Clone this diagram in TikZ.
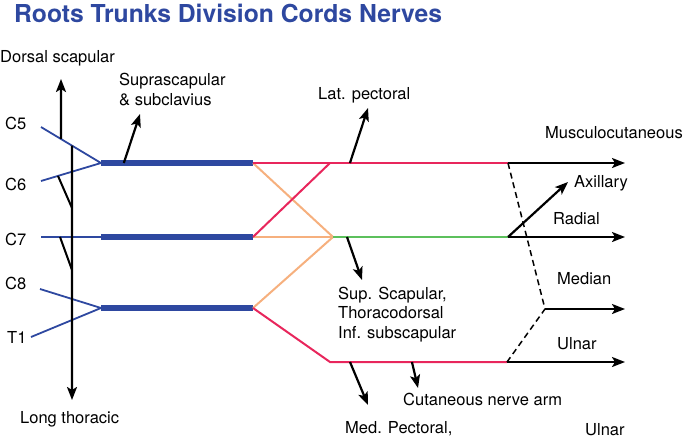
\documentclass[tikz,border=0pt]{standalone}
\usepackage{fontspec}
\setmainfont{TeX Gyre Heros}
\usetikzlibrary{arrows.meta,calc}
\definecolor{plexblue}{RGB}{46,72,160}
\definecolor{cordpink}{RGB}{232,38,92}
\definecolor{divorange}{RGB}{246,176,126}
\definecolor{cordgreen}{RGB}{92,192,92}
\tikzset{
  root/.style={plexblue,line width=1.8pt},
  trunk/.style={plexblue,line width=6pt},
  div/.style={divorange,line width=2pt},
  cord/.style={cordpink,line width=2pt},
  nerve/.style={black,line width=2.2pt,-{Stealth[length=13pt,width=10pt,inset=3pt]}},
  lbl/.style={anchor=base west,inner sep=0pt,align=left}
}
\begin{document}
\begin{tikzpicture}[x=1pt,y=-1pt,font=\fontsize{16.5}{19.5}\selectfont]
\useasboundingbox (0,0) rectangle (685,439);

\node[lbl,plexblue,font=\fontsize{24.7}{28}\selectfont\bfseries] (title) at (14,22) {Roots Trunks Division Cords Nerves};

% roots
\coordinate (c5) at (41,127);
\coordinate (c6) at (41,181);
\coordinate (c7) at (41,237);
\coordinate (c8) at (40,289);
\coordinate (t1) at (31,337);

\node[lbl] (lc5) at (5,129) {C5};
\node[lbl] (lc6) at (5,190) {C6};
\node[lbl] (lc7) at (5,245) {C7};
\node[lbl] (lc8) at (5,289) {C8};
\node[lbl] (lt1) at (7,343) {T1};

% trunks
\coordinate (ua) at (101,163);
\coordinate (ub) at (253,163);
\coordinate (ma) at (101,237);
\coordinate (mb) at (253,237);
\coordinate (la) at (101,308);
\coordinate (lb) at (253,308);

\draw[root] (c5) -- (ua) -- (c6);
\draw[root] (c7) -- (ma);
\draw[root] (c8) -- (la) -- (t1);
\draw[trunk] (ua) -- (ub);
\draw[trunk] (ma) -- (mb);
\draw[trunk] (la) -- (lb);

% dorsal scapular and long thoracic
\coordinate (ds) at ($(c5)!0.333!(ua)$);
\coordinate (lt) at ($(c5)!0.517!(ua)$);
\coordinate (ltend) at (72,400);
\draw[nerve] (ds) -- (61,79) coordinate (dsend);
\draw[nerve] (lt) -- (ltend);
\draw[black,line width=2pt] ($(c6)!0.283!(ua)$) -- (72,208);
\draw[black,line width=2pt] ($(c7)!0.317!(ma)$) -- (72,270);
\node[lbl] (lds) at (0,62) {Dorsal scapular};
\node[lbl] (llt) at (20,423) {Long thoracic};

\draw[nerve] ($(ua)!0.15!(ub)$) -- (140,114) coordinate (ssend);
\node[lbl] (lss) at (119,105) {Suprascapular\\\& subclavius};

% divisions and cords
\coordinate (lat) at (330,163);
\coordinate (pos) at (333,237);
\coordinate (med) at (330,362);
\coordinate (lat2) at (508,163);
\coordinate (pos2) at (508,237);
\coordinate (med2) at (507,362);
\coordinate (mj) at (545,309);

\draw[div] (ub) -- (pos);
\draw[div] (mb) -- (pos);
\draw[div] (lb) -- (pos);
\draw[cord] (mb) -- (lat);
\draw[cord] (ub) -- (lat2);
\draw[cord] (lb) -- (med) -- (med2);
\draw[cordgreen,line width=2pt] (pos) -- (pos2);

% branches of the cords
\draw[nerve] ($(lat)!0.112!(lat2)$) -- (368,108) coordinate (lpend);
\draw[nerve] ($(pos)!0.08!(pos2)$) -- (362,280) coordinate (supend);
\draw[nerve] ($(med)!0.113!(med2)$) -- (368,405) coordinate (mpend);
\draw[nerve] ($(med)!0.463!(med2)$) -- (418,388) coordinate (cnend);
\node[lbl] (llp) at (318,99) {Lat. pectoral};
\node[lbl] (lsup) at (338,338) {Sup. Scapular,\\Thoracodorsal\\Inf. subscapular};
\node[lbl] (lmp) at (345,433) {Med. Pectoral,};
\node[lbl] (lcn) at (403,405) {Cutaneous nerve arm};

% terminal nerves
\draw[black,line width=1.5pt,dash pattern=on 6pt off 4pt] (lat2) -- (mj) -- (med2);
\draw[nerve] (lat2) -- (625,163) coordinate (mcend);
\draw[nerve] (pos2) -- (625,237) coordinate (raend);
\draw[nerve] (pos2) -- (568,182) coordinate (axend);
\draw[nerve] (mj) -- (625,309) coordinate (meend);
\draw[nerve] (med2) -- (625,362) coordinate (ulend);
\node[lbl] (lmc) at (545,138) {Musculocutaneous};
\node[lbl] (lax) at (574,187) {Axillary};
\node[lbl] (lra) at (553,224) {Radial};
\node[lbl] (lme) at (557,284) {Median};
\node[lbl] (lul) at (557,349) {Ulnar};
\node[lbl] (lul2) at (585,435) {Ulnar};
\end{tikzpicture}
\end{document}
